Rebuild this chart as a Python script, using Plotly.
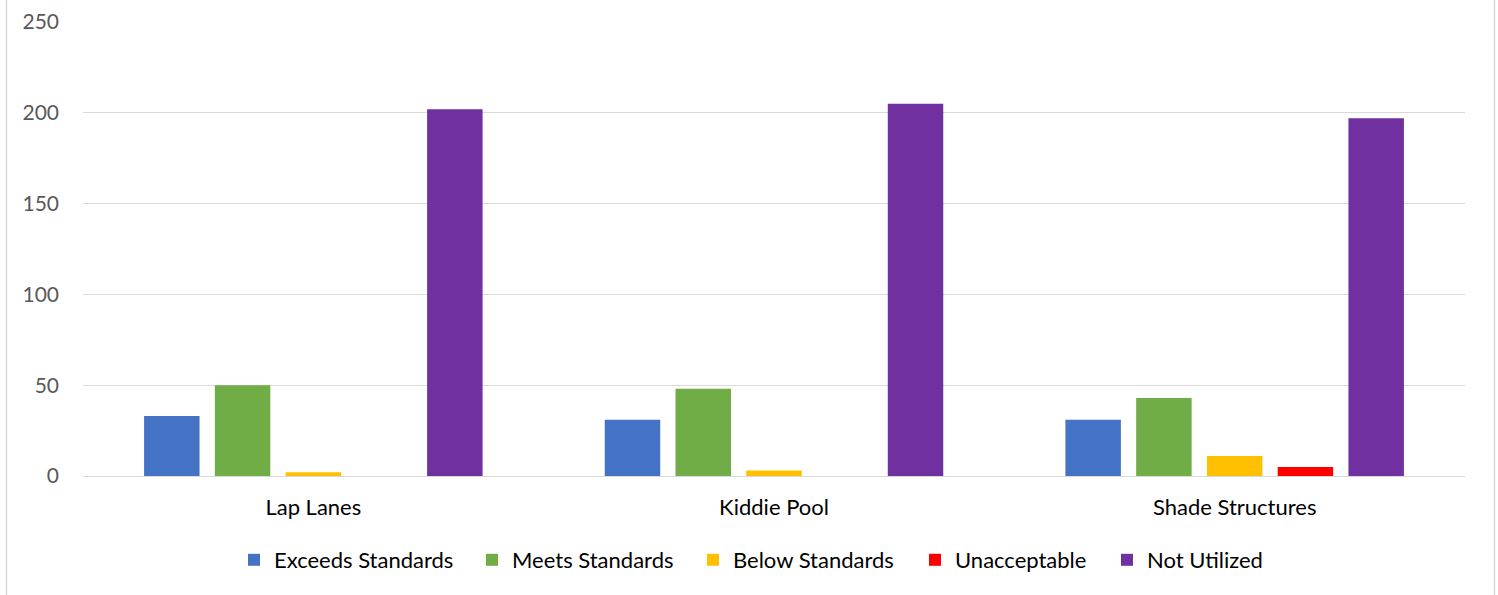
import plotly.graph_objects as go

categories = ["Lap Lanes", "Kiddie Pool", "Shade Structures"]
series_names = ["Exceeds Standards", "Meets Standards", "Below Standards", "Unacceptable", "Not Utilized"]
exceeds = [33, 31, 31]
meets = [50, 48, 43]
below = [2, 3, 11]
unacceptable = [0, 0, 5]
not_utilized = [202, 205, 197]
colors = ["#4472C4", "#70AD47", "#FFC000", "#FF0000", "#7030A0"]
y_ticks = [0, 50, 100, 150, 200, 250]

W, H = 1498, 595
ml, mr, mt, mb = 83, 33, 22, 119

pw = W - ml - mr
ph = H - mt - mb
def px_to_paper_x(p):
    return (p - ml) / pw
def px_to_paper_y(p):
    return (H - mb - p) / ph

legend_px = [252, 490, 711, 933, 1125]
legend_ids = ["legend", "legend2", "legend3", "legend4", "legend5"]

fig = go.Figure()
for name, vals, c, lid in zip(series_names, [exceeds, meets, below, unacceptable, not_utilized], colors, legend_ids):
    fig.add_trace(go.Bar(name=name, x=categories, y=vals, legend=lid,
                         marker=dict(color=c, line=dict(width=0))))

legend_layout = {}
for lid, lx in zip(legend_ids, legend_px):
    legend_layout[lid] = dict(orientation="h", x=px_to_paper_x(lx - 18), xanchor="left",
                              y=px_to_paper_y(560), yanchor="middle",
                              font=dict(color="#000000", size=22), itemwidth=30,
                              bgcolor="rgba(0,0,0,0)")

fig.update_layout(
    width=W, height=H,
    margin=dict(l=ml, r=mr, t=mt, b=mb, pad=0, autoexpand=False),
    paper_bgcolor="white", plot_bgcolor="white",
    barmode="group", bargap=0.232, bargroupgap=0.216,
    font=dict(family="Lato, Open Sans, sans-serif", color="#595959", size=21),
    xaxis=dict(showgrid=False, showline=False, ticks="", automargin=False,
               tickfont=dict(color="#000000", size=22), ticklabelstandoff=16),
    yaxis=dict(range=[0, 250], tickvals=y_ticks, showgrid=True, gridcolor="#D9D9D9", gridwidth=1.3,
               zeroline=True, zerolinecolor="#D9D9D9", zerolinewidth=1.3, showline=False, ticks="",
               automargin=False, tickfont=dict(color="#595959", size=21), ticklabelstandoff=23),
    showlegend=True,
    shapes=[
        dict(type="rect", xref="paper", yref="paper",
             x0=px_to_paper_x(6.5), x1=px_to_paper_x(1494.5),
             y0=px_to_paper_y(-10), y1=px_to_paper_y(605),
             line=dict(color="#D9D9D9", width=1.5), layer="below")
    ],
    **legend_layout,
)

fig.write_html("out.html")
